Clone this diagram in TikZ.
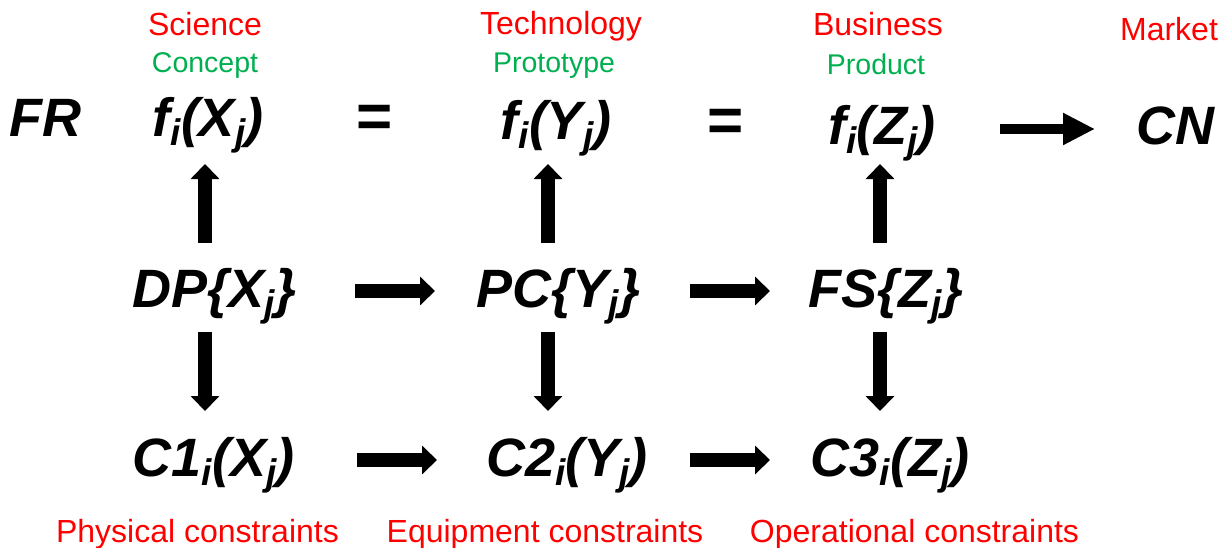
\documentclass[tikz,border=0pt]{standalone}
\usepackage{fontspec}
\setmainfont{Liberation Sans}
\usetikzlibrary{arrows.meta}
\definecolor{stagered}{RGB}{255,0,0}
\definecolor{outgreen}{RGB}{0,176,80}
% lowered, smaller index letter
\newcommand\sbs[1]{\raisebox{-9pt}{\fontsize{37}{37}\selectfont #1}}

\begin{document}
\begin{tikzpicture}[x=1pt,y=-1pt,
  formula/.style={font=\fontsize{54}{54}\selectfont\bfseries\itshape,
    inner sep=0pt, text height=42pt, text depth=10pt, anchor=center},
  equals/.style={font=\fontsize{62}{62}\selectfont\bfseries,
    inner sep=0pt, anchor=center},
  stage/.style={font=\fontsize{32}{32}\selectfont, text=stagered,
    anchor=base, inner sep=0pt},
  outcome/.style={font=\fontsize{28.5}{28.5}\selectfont, text=outgreen,
    anchor=base, inner sep=0pt},
  flow/.style={line width=14pt, -{Triangle[width=28pt,length=15pt]}},
  mapflow/.style={line width=9.5pt, -{Triangle[width=30pt,length=32pt]}}
]
\fill[white] (0,0) rectangle (1230,548);
\useasboundingbox (0,0) rectangle (1230,548);

% columns of the vertical arrows
\coordinate (c1) at (205,0);
\coordinate (c2) at (548,0);
\coordinate (c3) at (880,0);

% stage and outcome labels
\node[stage] (sci) at (205,36) {Science};
\node[outcome] (con) at (205,73) {Concept};
\node[stage] (tec) at (561,35) {Technology};
\node[outcome] (pro) at (554,73) {Prototype};
\node[stage] (bus) at (878,36) {Business};
\node[outcome] (prd) at (876,75) {Product};
\node[stage] (mkt) at (1169,41) {Market};

% functional requirements row
\node[formula] (fr) at (45,121) {FR};
\node[formula] (fx) at (208,121) {f\sbs{i}(X\sbs{j})};
\node[equals] (eqa) at (374.5,121) {=};
\node[formula] (fy) at (556,124) {f\sbs{i}(Y\sbs{j})};
\node[equals] (eqb) at (725.5,125) {=};
\node[formula] (fz) at (882,129) {f\sbs{i}(Z\sbs{j})};
\node[formula] (cn) at (1175.5,129) {CN};

% design parameter row
\node[formula] (dp) at (214.5,291) {DP\{X\sbs{j}\}};
\node[formula] (pc) at (558.5,291) {PC\{Y\sbs{j}\}};
\node[formula] (fs) at (886,291) {FS\{Z\sbs{j}\}};

% constraint row
\node[formula] (ca) at (213.5,460) {C1\sbs{i}(X\sbs{j})};
\node[formula] (cb) at (567,460) {C2\sbs{i}(Y\sbs{j})};
\node[formula] (cc) at (890,460) {C3\sbs{i}(Z\sbs{j})};

% constraint labels
\node[stage] (phy) at (197.5,542) {Physical constraints};
\node[stage] (equ) at (545,542) {Equipment constraints};
\node[stage] (ope) at (914.5,542) {Operational constraints};

% horizontal arrows
\draw[mapflow, shorten <=118pt, shorten >=80.5pt] (fz.center) -- (cn.center);
\draw[flow, shorten <=140.5pt, shorten >=123.5pt] (dp.center) -- (pc.center);
\draw[flow, shorten <=131.5pt, shorten >=116pt] (pc.center) -- (fs.center);
\draw[flow, shorten <=143.5pt, shorten >=130pt] (ca.center) -- (cb.center);
\draw[flow, shorten <=123pt, shorten >=120pt] (cb.center) -- (cc.center);

% upward arrows
\draw[flow, shorten <=48pt, shorten >=43pt] (dp -| c1) -- (fx -| c1);
\draw[flow, shorten <=48pt, shorten >=40pt] (pc -| c2) -- (fy -| c2);
\draw[flow, shorten <=48pt, shorten >=35pt] (fs -| c3) -- (fz -| c3);

% downward arrows
\draw[flow, shorten <=41pt, shorten >=49pt] (dp -| c1) -- (ca -| c1);
\draw[flow, shorten <=41pt, shorten >=49pt] (pc -| c2) -- (cb -| c2);
\draw[flow, shorten <=41pt, shorten >=49pt] (fs -| c3) -- (cc -| c3);
\end{tikzpicture}
\end{document}
